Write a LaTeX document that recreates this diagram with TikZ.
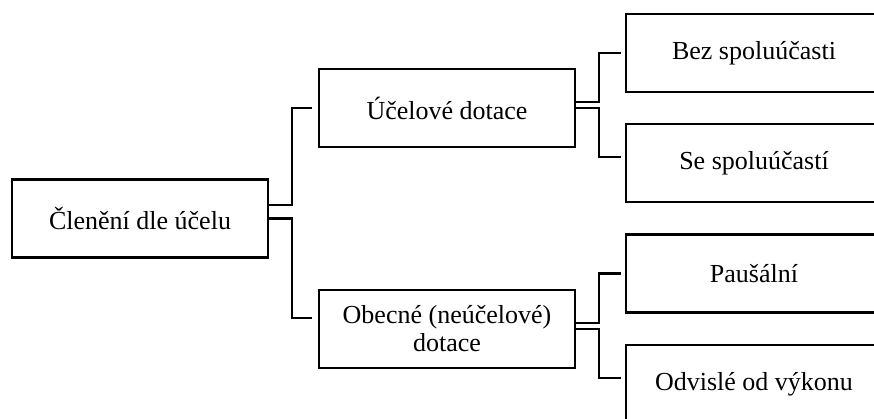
\documentclass[tikz,border=0pt]{standalone}
\usepackage{fontspec}
\setmainfont{Liberation Serif}
\usetikzlibrary{positioning}

\begin{document}
\begin{tikzpicture}[
    x=1pt, y=1pt,
    box/.style={draw, line width=2.3pt, minimum width=256pt, minimum height=78pt, inner sep=2pt, align=center, font=\fontsize{26}{28}\selectfont},
    link/.style={line width=2.3pt}
]
    \useasboundingbox (0,0) rectangle (874,418);
    \clip (0,0) rectangle (874,418);
    % Boxes
    \node[box] (cleneni) at (140,199.5) {Členění dle účelu};
    \node[box] (ucelove) at (447,310) {Účelové dotace};
    \node[box] (obecne) at (447,89) {Obecné (neúčelové)\\dotace};
    \node[box] (bez) at (754,365) {Bez spoluúčasti};
    \node[box] (se) at (754,255) {Se spoluúčastí};
    \node[box] (pausal) at (754,144.5) {Paušální};
    \node[box] (odvisle) at (754,34) {Odvislé od výkonu};

    % Connectors
    \draw[link] ([yshift=13.5]cleneni.east) -- ++(23,0) |- ([xshift=-6]ucelove.west);
    \draw[link] (cleneni.east) -- ++(23,0) |- ([xshift=-6,yshift=11]obecne.west);
    \draw[link] ([yshift=6]ucelove.east) -- ++(23,0) |- ([xshift=-4]bez.west);
    \draw[link] (ucelove.east) -- ++(23,0) |- ([xshift=-4,yshift=6]se.west);
    \draw[link] ([yshift=6]obecne.east) -- ++(23,0) |- ([xshift=-4]pausal.west);
    \draw[link] (obecne.east) -- ++(23,0) |- ([xshift=-4,yshift=6]odvisle.west);
\end{tikzpicture}
\end{document}
